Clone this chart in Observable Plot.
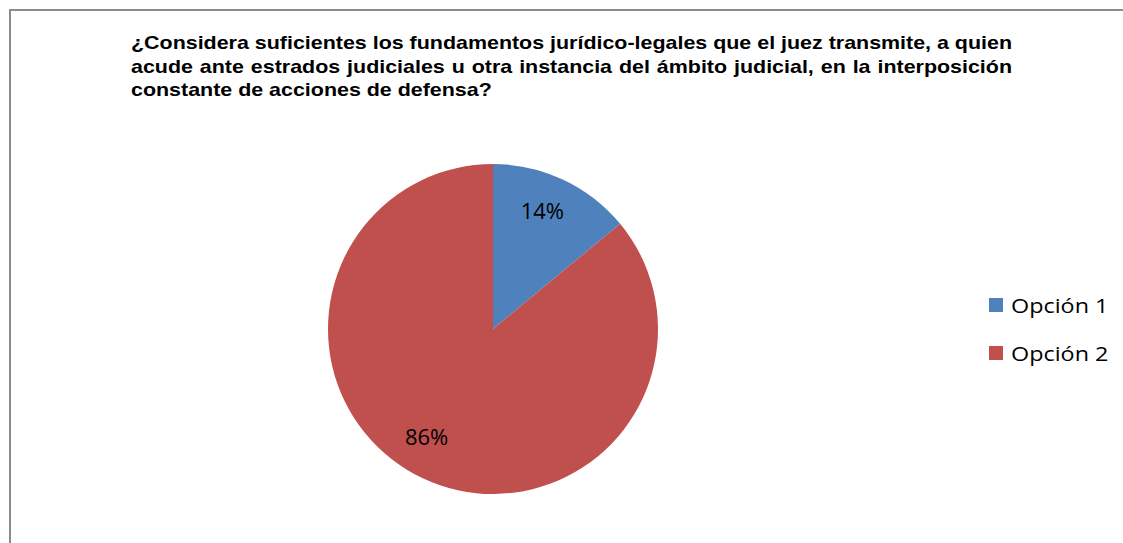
<!DOCTYPE html>
<html><head><meta charset="utf-8">
<script src="https://cdn.jsdelivr.net/npm/d3@7"></script>
<script src="https://cdn.jsdelivr.net/npm/@observablehq/plot@0.6"></script>
<style>
html,body{margin:0;padding:0;background:#fff;overflow:hidden;width:1123px;height:543px;}
#wrap{position:relative;width:1123px;height:543px;overflow:hidden;}
#title{position:absolute;left:131px;top:31px;font-family:"Liberation Sans",Arial,sans-serif;font-weight:bold;font-size:18.5px;line-height:23.5px;color:#000;transform-origin:0 0;}
#title span{display:block;text-align:justify;text-align-last:justify;white-space:nowrap;}
#title span.last{text-align-last:left;}
#legend{position:absolute;left:989px;top:281px;font-family:"Open Sans",sans-serif;font-size:20.5px;color:#000;}
.li{display:flex;align-items:center;height:48px;}
.sw{width:14px;height:14px;margin-right:8px;}
.lt{display:inline-block;transform:scaleX(1.14);transform-origin:0 50%;white-space:nowrap;}
#chart{position:absolute;left:0;top:0;}
#chart svg{display:block;}
</style></head>
<body><div id="wrap"><div id="chart"></div>
<div id="title"></div>
<div id="legend"></div></div>
<script>
const titleLines = [
  "¿Considera suficientes los fundamentos jurídico-legales que el juez transmite, a quien",
  "acude ante estrados judiciales u otra instancia del ámbito judicial, en la interposición",
  "constante de acciones de defensa?"
];
const categories = ["Opción 1", "Opción 2"];
const values = [14, 86];
const labels = ["14%", "86%"];
const colors = ["#4F81BD", "#C0504D"];

// title: justified block, horizontally stretched to the reference width
const titleWidth = 881;
const tdiv = d3.select("#title");
titleLines.forEach((t, i) => tdiv.append("span").attr("class", i === titleLines.length - 1 ? "last" : null).text(t));
const ctx = document.createElement("canvas").getContext("2d");
ctx.font = "bold 18.5px 'Liberation Sans'";
const natural = d3.max(titleLines.slice(0, 2), t => ctx.measureText(t).width);
const sx = titleWidth / natural;
tdiv.style("width", natural + "px").style("transform", `scaleX(${sx})`);

const pie = d3.pie().sort(null).value(d => d)(values);
const data = pie.map((p, i) => ({cat: categories[i], label: labels[i], start: p.startAngle, end: p.endAngle, mid: (p.startAngle + p.endAngle) / 2}));

function chartFrame(index, scales, values, dimensions) {
  const w = dimensions ? dimensions.width : 1123;
  const h = dimensions ? dimensions.height : 543;
  return d3.create("svg:path")
    .attr("d", `M10,${h} V10 H${w}`)
    .attr("fill", "none")
    .attr("stroke", "#8c8c8c")
    .attr("stroke-width", 2)
    .node();
}

function slices(index, scales) {
  const g = d3.create("svg:g");
  const cx = scales.x(0), cy = scales.y(0);
  const r = Math.abs(scales.x(1) - scales.x(0));
  const arc = d3.arc().innerRadius(0).outerRadius(r);
  for (const d of data) {
    g.append("path")
      .attr("transform", `translate(${cx},${cy})`)
      .attr("d", arc({startAngle: d.start, endAngle: d.end}))
      .attr("fill", scales.color(d.cat));
  }
  return g.node();
}

// label placement tweak (Excel best-fit style)
const labelR = 0.77;
const labelTurn = [-0.045, 0.115];
const chart = Plot.plot({
  width: 1123, height: 543,
  margin: 0,
  x: {domain: [-1, 1], range: [328, 658], axis: null},
  y: {domain: [-1, 1], range: [494, 164], axis: null},
  color: {domain: categories, range: colors},
  marks: [
    chartFrame,
    slices,
    Plot.text(data, {
      x: (d, i) => labelR * Math.sin(d.mid + labelTurn[i]),
      y: (d, i) => labelR * Math.cos(d.mid + labelTurn[i]),
      text: "label",
      fontSize: 22,
      fontFamily: "'Open Sans', sans-serif",
      fill: "#000"
    })
  ]
});
document.getElementById("chart").appendChild(chart);

const leg = d3.select("#legend");
categories.forEach((c, i) => {
  const row = leg.append("div").attr("class", "li");
  row.append("div").attr("class", "sw").style("background", colors[i]);
  row.append("span").attr("class", "lt").text(c);
});
</script></body></html>
